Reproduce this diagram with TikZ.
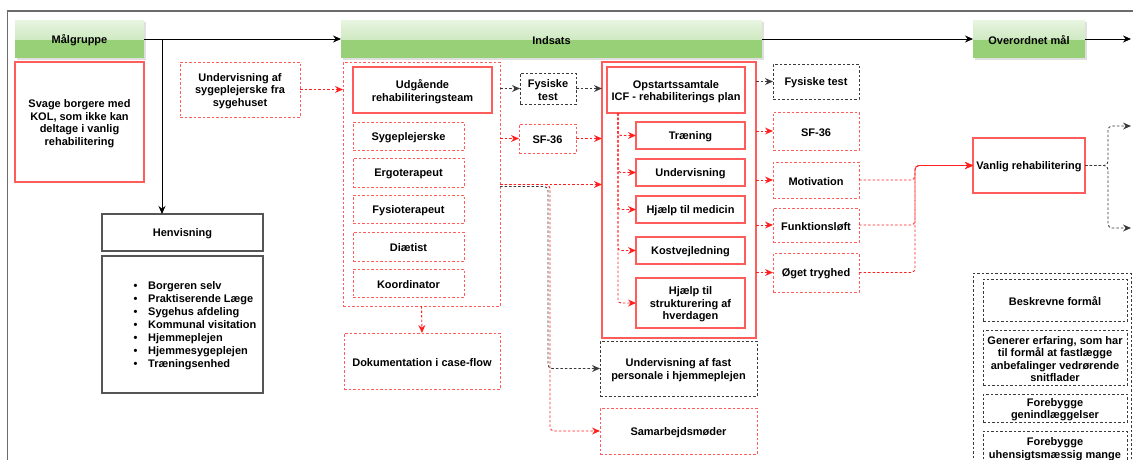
\documentclass[tikz,border=0pt]{standalone}
\usepackage{fontspec}
\setmainfont{Liberation Sans}
\usetikzlibrary{arrows.meta,shadows,calc}

\definecolor{hdrgreen}{HTML}{97D077}
\definecolor{hdrtop}{HTML}{E8F5E1}
\definecolor{hdrmid}{HTML}{B6DDA2}
\definecolor{boxred}{HTML}{FF5C5C}
\definecolor{linkred}{HTML}{FF1F1F}
\definecolor{framegray}{HTML}{6B6B6B}
\definecolor{edgegray}{HTML}{555555}
\definecolor{dotgray}{HTML}{3A3A3A}

% a box given by its corners: style, name, x1, y1, x2, y2, text
\newcommand\mkbox[7]{%
  \pgfmathsetmacro\bxcx{(#3+#5)/2}%
  \pgfmathsetmacro\bxcy{(#4+#6)/2}%
  \pgfmathsetmacro\bxw{#5-#3}%
  \pgfmathsetmacro\bxh{#6-#4}%
  \node[#1, minimum width=\bxw pt, minimum height=\bxh pt,
        label={[boxtext]center:{#7}}] (#2) at (\bxcx,\bxcy) {};%
}

\tikzset{
  txt/.style={font=\fontsize{11}{12.6}\selectfont\bfseries, align=center, text=black},
  boxtext/.style={txt, inner sep=0pt, yshift=-1.5pt},
  wide lines/.style={font=\fontsize{11}{14}\selectfont\bfseries},
  base/.style={rectangle, inner sep=0pt, outer sep=0pt},
  hdr/.style={base, fill=hdrgreen, draw=none,
    drop shadow={shadow xshift=1.5pt, shadow yshift=-1.5pt, opacity=0.25},
    path picture={\fill[top color=hdrtop, bottom color=hdrmid]
      (path picture bounding box.north west) rectangle (path picture bounding box.east);}},
  rsolid/.style={base, draw=boxred, line width=1.2pt},
  rdot/.style={base, draw=boxred, line width=1pt, dash pattern=on 2.5pt off 2pt},
  kdotbox/.style={base, draw=dotgray, line width=1pt, dash pattern=on 2.5pt off 2pt},
  kbox/.style={base, draw=edgegray, line width=1.2pt},
  arr/.style={draw=black, line width=0.9pt, -{Stealth[length=8pt,width=7pt]}},
  rarr/.style={draw=linkred, line width=0.9pt, dash pattern=on 2.5pt off 2pt,
    -{Stealth[length=8pt,width=7pt,line width=0pt]}},
  karr/.style={draw=dotgray, line width=0.9pt, dash pattern=on 2.5pt off 2pt,
    -{Stealth[length=8pt,width=7pt,line width=0pt]}},
}

\begin{document}
\begin{tikzpicture}[x=1pt, y=-1pt]
\useasboundingbox (0,0) rectangle (1133,459);
\clip (0,0) rectangle (1133,459);

% outer frame
\draw[framegray, line width=1.5pt] (7.5,470) -- (7.5,11) -- (1140,11);

% phase headers
\mkbox{hdr}{maal}{15}{20}{144}{58}{Målgruppe}
\mkbox{hdr}{inds}{341}{20}{762}{58}{Indsats}
\mkbox{hdr}{over}{973}{20}{1085}{58}{Overordnet mål}

% target group
\mkbox{rsolid, every label/.append style={wide lines}}{svage}{15}{62}{144}{182}
  {Svage borgere med\\KOL, som ikke kan\\deltage i vanlig\\rehabilitering}
\mkbox{kbox}{henv}{102}{214}{263}{251}{Henvisning}
\mkbox{kbox}{henvl}{102}{256}{263}{393}{}
\node[txt, align=left, anchor=west, inner sep=0pt, font=\fontsize{11}{13}\selectfont\bfseries]
  (henvtxt) at (133.5,325.5)
  {\makebox[14.5pt][l]{\textbullet}Borgeren selv\\
   \makebox[14.5pt][l]{\textbullet}Praktiserende Læge\\
   \makebox[14.5pt][l]{\textbullet}Sygehus afdeling\\
   \makebox[14.5pt][l]{\textbullet}Kommunal visitation\\
   \makebox[14.5pt][l]{\textbullet}Hjemmeplejen\\
   \makebox[14.5pt][l]{\textbullet}Hjemmesygeplejen\\
   \makebox[14.5pt][l]{\textbullet}Træningsenhed};

\mkbox{rdot}{usyg}{180}{62}{300}{117}{Undervisning af\\sygeplejerske fra\\sygehuset}

% outgoing rehabilitation team
\mkbox{rdot}{team}{343}{62}{500}{306}{}
\mkbox{rsolid}{udg}{353}{67}{492}{113}{Udgående\\rehabiliteringsteam}
\mkbox{rdot}{syg}{353}{122}{464}{150}{Sygeplejerske}
\mkbox{rdot}{ergo}{353}{158}{464}{187}{Ergoterapeut}
\mkbox{rdot}{fysio}{353}{195}{464}{223}{Fysioterapeut}
\mkbox{rdot}{diat}{353}{232}{464}{261}{Diætist}
\mkbox{rdot}{koord}{353}{269}{464}{297}{Koordinator}
\mkbox{rdot}{dok}{344}{333}{500}{389}{Dokumentation i case-flow}

\mkbox{kdotbox}{ftA}{520}{73}{576}{104}{Fysiske\\test}
\mkbox{rdot}{sfA}{519}{124}{576}{153}{SF-36}

% rehabilitation plan
\mkbox{rsolid}{plan}{602}{62}{756}{338}{}
\mkbox{rsolid}{opst}{607}{67}{745}{113}{Opstartssamtale\\ICF - rehabiliterings plan}
\mkbox{rsolid}{tren}{636}{122}{745}{149}{Træning}
\mkbox{rsolid}{underv}{636}{159}{745}{186}{Undervisning}
\mkbox{rsolid}{medi}{636}{196}{745}{223}{Hjælp til medicin}
\mkbox{rsolid}{kost}{636}{237}{745}{264}{Kostvejledning}
\mkbox{rsolid}{struk}{636}{278}{745}{328}{Hjælp til\\strukturering af\\hverdagen}

\mkbox{kdotbox}{undf}{600}{341}{757}{396}{Undervisning af fast\\personale i hjemmeplejen}
\mkbox{rdot}{samar}{600}{408}{757}{454}{Samarbejdsmøder}

% outcomes
\mkbox{kdotbox}{ftB}{773}{64}{859}{99}{Fysiske test}
\mkbox{rdot}{sfB}{773}{112}{859}{150}{SF-36}
\mkbox{rdot}{mot}{773}{162}{859}{198}{Motivation}
\mkbox{rdot}{fl}{773}{208}{859}{242}{Funktionsløft}
\mkbox{rdot}{og}{773}{253}{859}{292}{Øget tryghed}

\mkbox{rsolid}{van}{973}{138}{1085}{193}{Vanlig rehabilitering}

% described aims
\mkbox{kdotbox}{aims}{973}{273}{1131}{490}{}
\mkbox{kdotbox}{besk}{983}{279}{1127}{321}{Beskrevne formål}
\mkbox{kdotbox}{gen}{983}{330}{1127}{385}{Generer erfaring, som har\\til formål at fastlægge\\anbefalinger vedrørende\\snitflader}
\mkbox{kdotbox}{foreb}{983}{394}{1127}{422}{Forebygge\\genindlæggelser}
\mkbox{kdotbox}{uhens}{983}{431}{1127}{500}{}
\node[txt, inner sep=0pt] (uhenstxt) at (1055,449) {Forebygge\\uhensigtsmæssig mange};

% free ends
\coordinate (br) at ($(maal.east)+(18,0)$);
\coordinate (outC) at (1131,39);
\coordinate (tapR) at (500,184.5);
\coordinate (tapK) at (500,186.5);
\coordinate (sp) at ($(opst.south west)+(11,0)$);
\coordinate (mx) at (915,0);
\coordinate (vx) at (1108,0);
\coordinate (outA) at (1131,126);
\coordinate (outB) at (1131,228);

% header flow
\draw[arr] (maal.east) -- (inds.west);
\draw[arr] (br) -- (br |- henv.north);
\draw[arr] (inds.east) -- (over.west);
\draw[arr] (over.east) -- (outC);

% team connectors
\draw[rarr] (usyg.east) -- (usyg.east -| team.west);
\draw[karr] (team.east |- ftA.west) -- (ftA.west);
\draw[karr] (ftA.east) -- (ftA.east -| plan.west);
\draw[rarr] (team.east |- sfA.west) -- (sfA.west);
\draw[rarr] (sfA.east) -- (sfA.east -| plan.west);
\draw[rarr] (tapR) -- (tapR -| plan.west);
\draw[karr, rounded corners=4pt] (tapK) -- (548,186.5) |- (undf.west);
\draw[rarr, rounded corners=4pt] (tapR) -- (550,184.5) |- (samar.west);
\draw[rarr] (team.south) -- (dok.north);

% plan connectors
\foreach \b in {tren, underv, medi, kost, struk}
  \draw[rarr, rounded corners=3pt] (sp) |- (\b.west);
\draw[karr] (plan.east |- ftB.west) -- (ftB.west);
\foreach \b in {sfB, mot, fl, og}
  \draw[rarr] (plan.east |- \b.west) -- (\b.west);

% outcomes to ordinary rehabilitation
\foreach \b in {mot, fl, og}
  \draw[rarr, rounded corners=4pt] (\b.east) -- (\b.east -| mx) |- (van.west);
\draw[karr, rounded corners=4pt] (van.east) -- (van.east -| vx) |- (outA);
\draw[karr, rounded corners=4pt] (van.east) -- (van.east -| vx) |- (outB);
\end{tikzpicture}
\end{document}
